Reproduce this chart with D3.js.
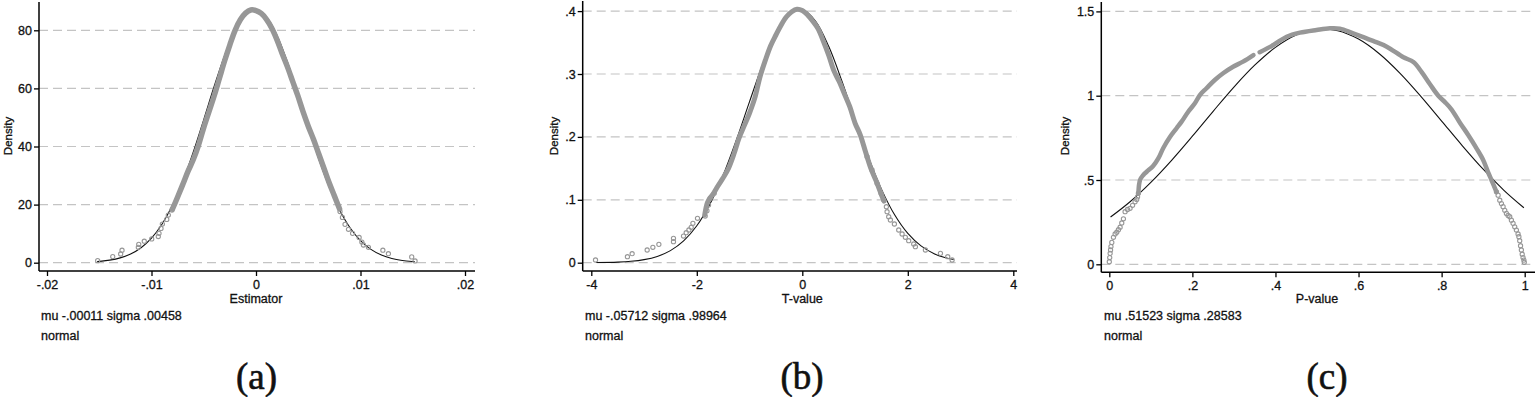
<!DOCTYPE html>
<html><head><meta charset="utf-8">
<script src="https://cdn.jsdelivr.net/npm/d3@7"></script>
<style>body{margin:0;background:#fff}svg{display:block}</style>
</head><body>
<svg id="chart" width="1535" height="397"></svg>
<script>
// ---------- Panel (a): Estimator ----------
const aTickX = [-0.02, -0.01, 0, 0.01, 0.02];
const aTickXLabels = ["-.02", "-.01", "0", ".01", ".02"];
const aTickY = [0, 20, 40, 60, 80];
const aTickYLabels = ["0", "20", "40", "60", "80"];
const aNormX = [-0.0152,-0.015,-0.014,-0.013,-0.012,-0.011,-0.010,-0.009,-0.008,-0.007,-0.006,-0.005,-0.004,-0.003,-0.002,-0.001,0,0.001,0.002,0.003,0.004,0.005,0.006,0.007,0.008,0.009,0.010,0.011,0.012,0.013,0.014,0.015,0.0152];
const aNormY = [0.38,0.44,0.88,1.66,3.00,5.16,8.46,13.24,19.75,28.09,38.10,49.26,60.73,71.38,79.99,85.47,87.07,84.58,78.33,69.17,58.23,46.75,35.77,26.10,18.16,12.05,7.62,4.60,2.64,1.45,0.76,0.38,0.33];
const aDensX = [-0.0080,-0.0075,-0.0070,-0.0065,-0.0060,-0.0055,-0.0050,-0.0045,-0.0040,-0.0035,-0.0030,-0.0025,-0.0020,-0.0015,-0.0010,-0.0005,0,0.0005,0.0010,0.0015,0.0020,0.0025,0.0030,0.0035,0.0040,0.0045,0.0050,0.0055,0.0060,0.0065,0.0070,0.0075,0.0080];
const aDensY = [18.4,22.6,27.0,31.5,35.5,40.5,46.5,52.0,57.5,63.5,69.5,75.0,80.0,83.6,85.9,87.0,86.8,85.8,83.8,80.8,76.8,72.0,67.5,62.5,57.5,52.0,47.0,42.5,37.5,32.5,27.5,23.0,18.5];
const aPtsX = [-0.01515,-0.01371,-0.01295,-0.01282,-0.01126,-0.01122,-0.01069,-0.00998,-0.00935,-0.00928,-0.00909,-0.00896,-0.00854,-0.00839,-0.00804,0.00804,0.00827,0.00852,0.00885,0.00924,0.00987,0.01013,0.01028,0.01076,0.01214,0.01267,0.01490,0.01522];
const aPtsY = [0.7,2.1,3.0,4.3,5.3,6.3,7.4,8.2,9.0,10.1,11.8,13.3,14.9,16.4,18.1,17.6,15.6,13.2,11.5,10.1,8.7,7.1,6.1,5.3,4.3,3.1,2.0,0.6];

// ---------- Panel (b): T-value ----------
const bTickX = [-4, -2, 0, 2, 4];
const bTickXLabels = ["-4", "-2", "0", "2", "4"];
const bTickY = [0, 0.1, 0.2, 0.3, 0.4];
const bTickYLabels = ["0", ".1", ".2", ".3", ".4"];
const bNormX = [-3.91,-3.5,-3.25,-3.0,-2.75,-2.5,-2.25,-2.0,-1.75,-1.5,-1.25,-1.0,-0.75,-0.5,-0.25,0,0.25,0.5,0.75,1.0,1.25,1.5,1.75,2.0,2.25,2.5,2.7,2.87];
const bNormY = [0.0002,0.00095,0.0022,0.0049,0.0100,0.0192,0.0346,0.0587,0.0933,0.1393,0.1950,0.2560,0.3154,0.3646,0.3954,0.4023,0.3841,0.3440,0.2890,0.2278,0.1685,0.1170,0.0761,0.0465,0.0267,0.0143,0.0083,0.0051];
const bDensX = [-1.85,-1.80,-1.75,-1.70,-1.60,-1.50,-1.40,-1.30,-1.20,-1.10,-1.00,-0.90,-0.80,-0.70,-0.60,-0.50,-0.40,-0.30,-0.20,-0.10,0.00,0.10,0.20,0.30,0.40,0.50,0.60,0.70,0.80,0.90,1.00,1.10,1.20,1.30,1.40,1.50,1.55];
const bDensY = [0.076,0.095,0.103,0.108,0.122,0.135,0.150,0.172,0.198,0.218,0.238,0.262,0.296,0.322,0.345,0.362,0.378,0.391,0.399,0.403,0.401,0.394,0.384,0.372,0.352,0.330,0.305,0.288,0.268,0.248,0.222,0.203,0.176,0.150,0.130,0.108,0.098];
const bPtsX = [-3.92,-3.315,-3.226,-2.941,-2.833,-2.719,-2.442,-2.442,-2.252,-2.201,-2.150,-2.106,-2.074,-1.987,-1.841,-1.808,-1.778,-1.746,-1.670,1.228,1.322,1.417,1.493,1.543,1.594,1.607,1.638,1.670,1.746,1.828,1.892,1.954,2.017,2.112,2.144,2.334,2.619,2.757,2.840];
const bPtsY = [0.0043,0.0095,0.0143,0.0202,0.0245,0.0292,0.0334,0.0388,0.0424,0.0477,0.0520,0.0563,0.0626,0.0706,0.0742,0.0827,0.0917,0.1024,0.1103,0.1685,0.1474,0.1262,0.1103,0.0997,0.0890,0.0811,0.0731,0.0679,0.0615,0.0520,0.0456,0.0404,0.0350,0.0297,0.0254,0.0202,0.0149,0.0095,0.0043];

// ---------- Panel (c): P-value ----------
const cTickX = [0, 0.2, 0.4, 0.6, 0.8, 1];
const cTickXLabels = ["0", ".2", ".4", ".6", ".8", "1"];
const cTickY = [0, 0.5, 1, 1.5];
const cTickYLabels = ["0", ".5", "1", "1.5"];
const cNormX = [0.003,0.05,0.10,0.15,0.20,0.25,0.30,0.35,0.40,0.45,0.50,0.55,0.60,0.65,0.70,0.75,0.80,0.85,0.90,0.95,0.998];
const cNormY = [0.2803,0.3711,0.4859,0.6169,0.7597,0.9075,1.0512,1.1809,1.2867,1.3598,1.3937,1.3854,1.3357,1.2489,1.1326,0.9961,0.8497,0.7029,0.5640,0.4390,0.3353];
const cDens1X = [0.070,0.074,0.082,0.090,0.106,0.118,0.130,0.146,0.162,0.174,0.190,0.206,0.218,0.234,0.254,0.274,0.298,0.322,0.347];
const cDens1Y = [0.421,0.500,0.530,0.549,0.585,0.628,0.690,0.755,0.807,0.846,0.905,0.955,1.004,1.044,1.093,1.133,1.172,1.202,1.241];
const cDens2X = [0.362,0.395,0.427,0.459,0.499,0.531,0.555,0.587,0.635,0.668,0.708,0.732,0.752,0.772,0.792,0.808,0.824,0.844,0.864,0.884,0.900,0.912,0.920,0.932];
const cDens2Y = [1.258,1.301,1.350,1.374,1.390,1.400,1.398,1.370,1.325,1.291,1.228,1.200,1.140,1.068,1.000,0.962,0.918,0.840,0.767,0.688,0.619,0.545,0.500,0.430];
const cPtsX = [0.000,0.001,0.002,0.003,0.004,0.006,0.010,0.014,0.018,0.022,0.026,0.030,0.034,0.038,0.044,0.050,0.056,0.062,0.066,0.068,0.070,0.932,0.936,0.940,0.944,0.948,0.952,0.956,0.960,0.964,0.968,0.972,0.976,0.980,0.984,0.986,0.988,0.990,0.992,0.994,0.996,0.998,0.999];
const cPtsY = [0.015,0.040,0.065,0.085,0.105,0.130,0.160,0.180,0.190,0.205,0.220,0.245,0.270,0.312,0.325,0.332,0.350,0.371,0.385,0.400,0.421,0.430,0.410,0.380,0.360,0.342,0.320,0.302,0.290,0.282,0.262,0.243,0.222,0.203,0.180,0.164,0.140,0.110,0.085,0.060,0.040,0.025,0.012];

const xTitles = ["Estimator", "T-value", "P-value"];
const notes = [["mu -.00011 sigma .00458", "normal"], ["mu -.05712 sigma .98964", "normal"], ["mu .51523 sigma .28583", "normal"]];
const letters = ["(a)", "(b)", "(c)"];

const zip = (xs, ys) => xs.map((x, i) => [x, ys[i]]);

// layout (pixels)
const panels = [
  { xd: [-0.02, 0.02], xr: [47, 465], yd: [0, 80], yr: [262.7, 30.3], axX: 39, axTop: 2, axY: 271, axRight: 475,
    tx: aTickX, txl: aTickXLabels, ty: aTickY, tyl: aTickYLabels,
    norm: zip(aNormX, aNormY), dens: [zip(aDensX, aDensY)], pts: zip(aPtsX, aPtsY), bw: 5.5,
    ylabX: 8, noteX: 41, letterX: 256.5 },
  { xd: [-4, 4], xr: [591.3, 1013.3], yd: [0, 0.4], yr: [262.7, 11.1], axX: 582.7, axTop: 1, axY: 271, axRight: 1017,
    tx: bTickX, txl: bTickXLabels, ty: bTickY, tyl: bTickYLabels,
    norm: zip(bNormX, bNormY), dens: [zip(bDensX, bDensY)], pts: zip(bPtsX, bPtsY), bw: 5,
    ylabX: 554, noteX: 585, letterX: 802 },
  { xd: [0, 1], xr: [1109.3, 1524.7], yd: [0, 1.5], yr: [264.3, 11.4], axX: 1101.3, axTop: 2, axY: 272.3, axRight: 1535,
    tx: cTickX, txl: cTickXLabels, ty: cTickY, tyl: cTickYLabels,
    norm: zip(cNormX, cNormY), dens: [zip(cDens1X, cDens1Y), zip(cDens2X, cDens2Y)], pts: zip(cPtsX, cPtsY), bw: 4.5,
    ylabX: 1065, noteX: 1104, letterX: 1327 }
];

const svg = d3.select("#chart");
svg.append("rect").attr("width", 1535).attr("height", 397).attr("fill", "#fff");
const FONT = "'Liberation Sans', Arial, Helvetica, sans-serif";
const GRAY = "#979797";
const boldish = sel => sel.attr("font-family", FONT).attr("fill", "#111").attr("stroke", "#111").attr("stroke-width", 0.3);

panels.forEach((p, i) => {
  const x = d3.scaleLinear().domain(p.xd).range(p.xr);
  const y = d3.scaleLinear().domain(p.yd).range(p.yr);
  const g = svg.append("g");

  // gridlines
  g.selectAll("line.grid").data(p.ty).join("line")
    .attr("x1", p.axX).attr("x2", p.axRight)
    .attr("y1", d => y(d)).attr("y2", d => y(d))
    .attr("stroke", "#c4c4c4").attr("stroke-width", 1.2).attr("stroke-dasharray", "9,5");

  // y axis
  const yAxis = d3.axisLeft(y).tickValues(p.ty).tickFormat((d, k) => p.tyl[k]).tickSize(5).tickPadding(2);
  const ya = g.append("g").attr("transform", `translate(${p.axX},0)`).call(yAxis);
  ya.select(".domain").remove();
  ya.append("line").attr("x1", 0).attr("x2", 0).attr("y1", p.axTop).attr("y2", p.axY)
    .attr("stroke", "#000").attr("stroke-width", 1.5);
  ya.selectAll(".tick line").attr("stroke", "#000").attr("stroke-width", 1.3);
  ya.selectAll(".tick text").call(boldish).attr("font-size", 12.5);

  // x axis
  const xAxis = d3.axisBottom(x).tickValues(p.tx).tickFormat((d, k) => p.txl[k]).tickSize(5).tickPadding(4);
  const xa = g.append("g").attr("transform", `translate(0,${p.axY})`).call(xAxis);
  xa.select(".domain").remove();
  xa.append("line").attr("x1", p.axX).attr("x2", p.axRight).attr("y1", 0).attr("y2", 0)
    .attr("stroke", "#000").attr("stroke-width", 1.5);
  xa.selectAll(".tick line").attr("stroke", "#000").attr("stroke-width", 1.3);
  xa.selectAll(".tick text").call(boldish).attr("font-size", 12.5);

  // normal curve
  const line = d3.line().x(d => x(d[0])).y(d => y(d[1])).curve(d3.curveCatmullRom.alpha(0.5));
  g.append("path").attr("d", line(p.norm)).attr("fill", "none").attr("stroke", "#111").attr("stroke-width", 1.1);

  // kernel density band (dense markers)
  p.dens.forEach(seg => {
    g.append("path").attr("d", line(seg)).attr("fill", "none").attr("stroke", GRAY)
      .attr("stroke-width", p.bw).attr("stroke-linecap", "round").attr("stroke-linejoin", "round");
  });
  // sparse markers
  g.selectAll("circle.pt").data(p.pts).join("circle")
    .attr("cx", d => x(d[0])).attr("cy", d => y(d[1])).attr("r", 2.1)
    .attr("fill", "none").attr("stroke", GRAY).attr("stroke-width", 1.1);

  // titles
  g.append("text").attr("transform", `translate(${p.ylabX},136) rotate(-90)`).attr("text-anchor", "middle")
    .attr("dominant-baseline", "central").call(boldish).attr("font-size", 11.5).text("Density");
  g.append("text").attr("x", (p.xr[0] + p.xr[1]) / 2).attr("y", 303).attr("text-anchor", "middle")
    .call(boldish).attr("font-size", 12.5).text(xTitles[i]);
  notes[i].forEach((t, k) => {
    g.append("text").attr("x", p.noteX).attr("y", 320 + k * 20)
      .call(boldish).attr("font-size", 12.5).text(t);
  });
  g.append("text").attr("x", p.letterX).attr("y", 389).attr("text-anchor", "middle")
    .attr("font-family", "'Liberation Serif', 'Times New Roman', serif").attr("font-size", 37)
    .attr("fill", "#111").attr("stroke", "#111").attr("stroke-width", 0.6).text(letters[i]);
});
</script>
</body></html>
